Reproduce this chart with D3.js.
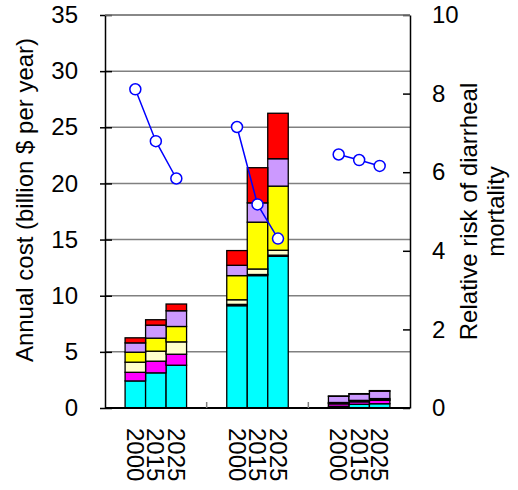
<!DOCTYPE html>
<html>
<head>
<meta charset="utf-8">
<script src="https://cdn.jsdelivr.net/npm/d3@7"></script>
<style>
  body { margin: 0; background: #fff; }
  svg text { font-family: "Liberation Sans", Arial, sans-serif; }
</style>
</head>
<body>
<div id="chart"></div>
<script>
const groups = ["A", "B", "C"];
const years = ["2000", "2015", "2025"];
const seriesKeys = ["s1", "s2", "s3", "s4", "s5", "s6"];
const seriesColors = ["#00ffff", "#ff00ff", "#ffffcc", "#ffff00", "#cc99ff", "#ff0000"];

// stacked cost components, bottom to top (billion $ per year)
const s1 = [2.41, 3.13, 3.81, 9.11, 11.79, 13.51, 0.15, 0.33, 0.38];
const s2 = [0.77, 1.04, 0.98, 0.12, 0.10, 0.10, 0.22, 0.22, 0.30];
const s3 = [0.90, 0.89, 1.10, 0.41, 0.49, 0.44, 0.06, 0.05, 0.06];
const s4 = [0.89, 1.16, 1.37, 2.15, 4.17, 5.71, 0.06, 0.08, 0.10];
const s5 = [0.83, 1.16, 1.40, 0.92, 1.72, 2.44, 0.55, 0.57, 0.66];
const s6 = [0.45, 0.48, 0.60, 1.31, 3.13, 4.05, 0.03, 0.03, 0.05];

// relative risk of diarrheal mortality (right axis)
const risk = [8.11, 6.79, 5.84, 7.15, 5.18, 4.31, 6.45, 6.31, 6.16];

const leftTicks = [0, 5, 10, 15, 20, 25, 30, 35];
const rightTicks = [0, 2, 4, 6, 8, 10];

const rows = [];
groups.forEach((g, gi) => {
  years.forEach((yr, yi) => {
    const i = gi * years.length + yi;
    rows.push({ group: g, year: yr, s1: s1[i], s2: s2[i], s3: s3[i], s4: s4[i], s5: s5[i], s6: s6[i], risk: risk[i] });
  });
});

const width = 518, height = 490;
const plotL = 105, plotR = 410, plotT = 15, plotB = 408;

const svg = d3.select("#chart").append("svg")
  .attr("width", width).attr("height", height);

const x0 = d3.scaleBand().domain(groups).range([plotL, plotR]).paddingInner(0).paddingOuter(0);
const x1 = d3.scaleBand().domain(years).range([0, x0.bandwidth()]).paddingInner(0).paddingOuter(0.98);
const y = d3.scaleLinear().domain([0, 35]).range([plotB, plotT]);
const y2 = d3.scaleLinear().domain([0, 10]).range([plotB, plotT]);

// gridlines
svg.append("g")
  .selectAll("line")
  .data(leftTicks.filter((d) => d > 0))
  .enter().append("line")
  .attr("x1", plotL).attr("x2", plotR)
  .attr("y1", (d) => y(d)).attr("y2", (d) => y(d))
  .attr("stroke", "#808080").attr("stroke-width", 1.5);

// stacked bars
const stack = d3.stack().keys(seriesKeys);
const layers = stack(rows);

svg.append("g")
  .selectAll("g")
  .data(layers)
  .enter().append("g")
  .attr("fill", (d, i) => seriesColors[i])
  .selectAll("rect")
  .data((d) => d)
  .enter().append("rect")
  .attr("x", (d) => x0(d.data.group) + x1(d.data.year))
  .attr("width", x1.bandwidth())
  .attr("y", (d) => y(d[1]))
  .attr("height", (d) => y(d[0]) - y(d[1]))
  .attr("stroke", "#000").attr("stroke-width", 1.3);

// axes
const leftAxis = d3.axisLeft(y).tickValues(leftTicks).tickSizeInner(-7).tickSizeOuter(0).tickFormat(d3.format("d"));
const ga = svg.append("g").attr("transform", `translate(${plotL},0)`).call(leftAxis);
ga.select(".domain").attr("stroke", "#000").attr("stroke-width", 1.5);
ga.selectAll(".tick line").attr("stroke", "#000").attr("x1", -5).attr("stroke-width", 1.5);
ga.selectAll(".tick text").attr("x", -27).attr("font-size", "24px").attr("fill", "#000");

const rightAxis = d3.axisRight(y2).tickValues(rightTicks).tickSizeInner(-7).tickSizeOuter(0).tickFormat(d3.format("d"));
const gr = svg.append("g").attr("transform", `translate(${plotR},0)`).call(rightAxis);
gr.select(".domain").attr("stroke", "#000").attr("stroke-width", 1.5);
gr.selectAll(".tick line").attr("stroke", "#000").attr("stroke-width", 1.5);
gr.selectAll(".tick text").attr("x", 22).attr("font-size", "24px").attr("fill", "#000");

// top border
svg.append("line").attr("x1", plotL).attr("x2", plotR).attr("y1", plotT).attr("y2", plotT)
  .attr("stroke", "#808080").attr("stroke-width", 1.5);

// bottom axis
svg.append("line").attr("x1", plotL).attr("x2", plotR).attr("y1", plotB).attr("y2", plotB)
  .attr("stroke", "#000").attr("stroke-width", 2);
svg.append("g").selectAll("line")
  .data(groups.slice(1))
  .enter().append("line")
  .attr("x1", (d) => x0(d)).attr("x2", (d) => x0(d))
  .attr("y1", plotB).attr("y2", plotB - 6)
  .attr("stroke", "#808080").attr("stroke-width", 1.5);

// year labels
svg.append("g").selectAll("text")
  .data(rows)
  .enter().append("text")
  .attr("transform", (d) => `translate(${x0(d.group) + x1(d.year) + x1.bandwidth() / 2},428) rotate(90)`)
  .attr("dy", "0.35em")
  .attr("text-anchor", "start")
  .attr("font-size", "24px")
  .text((d) => d.year);

// risk lines
const line = d3.line()
  .x((d) => x0(d.group) + x1(d.year) + x1.bandwidth() / 2)
  .y((d) => y2(d.risk));

groups.forEach((g) => {
  const pts = rows.filter((r) => r.group === g);
  svg.append("path")
    .datum(pts)
    .attr("d", line)
    .attr("fill", "none")
    .attr("stroke", "#0000ff")
    .attr("stroke-width", 1.5);
  svg.append("g").selectAll("circle")
    .data(pts)
    .enter().append("circle")
    .attr("cx", (d) => x0(d.group) + x1(d.year) + x1.bandwidth() / 2)
    .attr("cy", (d) => y2(d.risk))
    .attr("r", 5.5)
    .attr("fill", "#fff")
    .attr("stroke", "#0000ff")
    .attr("stroke-width", 1.5);
});

// axis titles
svg.append("text")
  .attr("transform", "translate(33,200) rotate(-90)")
  .attr("text-anchor", "middle")
  .attr("font-size", "24px")
  .text("Annual cost (billion $ per year)");

const rt = svg.append("text")
  .attr("transform", `translate(477,${(plotT + plotB) / 2}) rotate(-90)`)
  .attr("text-anchor", "middle")
  .attr("font-size", "24px");
rt.append("tspan").attr("x", 0).attr("y", 0).text("Relative risk of diarrheal");
rt.append("tspan").attr("x", 0).attr("y", 27).text("mortality");
</script>
</body>
</html>
